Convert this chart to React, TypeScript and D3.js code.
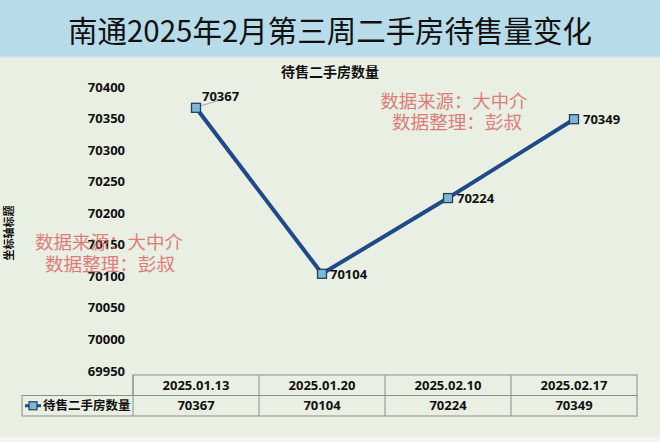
import React from "react";
import * as d3 from "d3";

const categories = ["2025.01.13", "2025.01.20", "2025.02.10", "2025.02.17"];
const values = [70367, 70104, 70224, 70349];
const yTicks = [69950, 70000, 70050, 70100, 70150, 70200, 70250, 70300, 70350, 70400];
const seriesName = "待售二手房数量";
const titleText = "南通2025年2月第三周二手房待售量变化";
const axisTitle = "坐标轴标题";
const wm1 = "数据来源：大中介";
const wm2 = "数据整理：彭叔";

const W = 660;
const H = 442;
const numFont = "'Open Sans', 'DejaVu Sans', sans-serif";
const cjkFont = "'Noto Sans CJK SC', sans-serif";

export default function App() {
  const x = d3.scaleBand<string>().domain(categories).range([133, 637]).padding(0);
  const y = d3.scaleLinear().domain([69950, 70400]).range([371, 87]);
  const cx = (c: string) => (x(c) as number) + x.bandwidth() / 2;
  const line = d3
    .line<number>()
    .x((_, i) => cx(categories[i]))
    .y((d) => y(d));

  const tableTop = 375;
  const rowH = 20.5;
  const legendLeft = 22;
  const tableLeft = x.range()[0];
  const tableRight = x.range()[1];
  const border = "#8a8e88";
  const lineColor = "#1f4a89";
  const mFill = "#7db7d6";
  const mStroke = "#23415f";
  const wmColor = "#dc6a68";

  const labelOffsets = [
    { dx: 6, dy: -11, anchor: "start" },
    { dx: 8, dy: 1, anchor: "start" },
    { dx: 9, dy: 0, anchor: "start" },
    { dx: 9, dy: 0, anchor: "start" },
  ];

  return (
    <svg
      width={W}
      height={H}
      style={{ position: "absolute", left: 0, top: 0 }}
      xmlns="http://www.w3.org/2000/svg"
    >
      <rect x={0} y={0} width={W} height={H} fill="#f3f5ef" />
      <rect x={0} y={57} width={W} height={380} fill="#e9efe2" />
      <rect x={0} y={0} width={W} height={57} fill="#b8dbe9" />
      <line x1={0} x2={W} y1={57} y2={57} stroke="#d8e6e6" strokeWidth={1} />
      <text
        x={330}
        y={42}
        textAnchor="middle"
        fontFamily={cjkFont}
        fontSize={30}
        fill="#111"
        textLength={524}
        lengthAdjust="spacingAndGlyphs"
      >
        {titleText}
      </text>

      <text
        x={330}
        y={77}
        textAnchor="middle"
        fontFamily={cjkFont}
        fontWeight={700}
        fontSize={14}
        fill="#111"
      >
        {seriesName}
      </text>

      {yTicks.map((t) => (
        <text
          key={t}
          x={125}
          y={y(t)}
          dy="0.35em"
          textAnchor="end"
          fontFamily={numFont}
          fontWeight={700}
          fontSize={13}
          fill="#111"
        >
          {t}
        </text>
      ))}

      <text
        transform={`translate(13,233) rotate(-90)`}
        textAnchor="middle"
        fontFamily={cjkFont}
        fontWeight={700}
        fontSize={11}
        fill="#111"
      >
        {axisTitle}
      </text>

      {/* watermarks */}
      <g fontFamily={cjkFont} fontSize={18} fill={wmColor} opacity={0.85}>
        <text x={109} y={243} dy="0.35em" textAnchor="middle" textLength={148} lengthAdjust="spacingAndGlyphs">
          {wm1}
        </text>
        <text x={110} y={265} dy="0.35em" textAnchor="middle" textLength={130} lengthAdjust="spacingAndGlyphs">
          {wm2}
        </text>
        <text x={454} y={102} dy="0.35em" textAnchor="middle" textLength={147} lengthAdjust="spacingAndGlyphs">
          {wm1}
        </text>
        <text x={457} y={123} dy="0.35em" textAnchor="middle" textLength={130} lengthAdjust="spacingAndGlyphs">
          {wm2}
        </text>
      </g>

      {/* leader line for first label */}
      <line
        x1={cx(categories[0]) + 5}
        y1={y(values[0]) - 2}
        x2={cx(categories[0]) + 25}
        y2={y(values[0]) - 8}
        stroke="#a0a4a0"
        strokeWidth={1}
      />

      <path d={line(values) || ""} fill="none" stroke={lineColor} strokeWidth={4} strokeLinejoin="round" />
      {values.map((v, i) => (
        <rect
          key={i}
          x={cx(categories[i]) - 4.5}
          y={y(v) - 4.5}
          width={9}
          height={9}
          fill={mFill}
          stroke={mStroke}
          strokeWidth={1.3}
        />
      ))}
      {values.map((v, i) => (
        <text
          key={"l" + i}
          x={cx(categories[i]) + labelOffsets[i].dx}
          y={y(v) + labelOffsets[i].dy}
          dy="0.35em"
          textAnchor={labelOffsets[i].anchor as any}
          fontFamily={numFont}
          fontWeight={700}
          fontSize={13}
          fill="#111"
        >
          {v}
        </text>
      ))}

      {/* data table */}
      <g>
        <rect
          x={tableLeft}
          y={tableTop}
          width={tableRight - tableLeft}
          height={rowH}
          fill="none"
          stroke={border}
          strokeWidth={1}
        />
        <rect
          x={legendLeft}
          y={tableTop + rowH}
          width={tableRight - legendLeft}
          height={rowH}
          fill="none"
          stroke={border}
          strokeWidth={1}
        />
        {categories.map((c, i) => (
          <g key={c}>
            {i > 0 && (
              <line
                x1={x(c) as number}
                x2={x(c) as number}
                y1={tableTop}
                y2={tableTop + 2 * rowH}
                stroke={border}
                strokeWidth={1}
              />
            )}
            <text
              x={cx(c)}
              y={tableTop + rowH / 2}
              dy="0.35em"
              textAnchor="middle"
              fontFamily={numFont}
              fontWeight={700}
              fontSize={13}
              fill="#111"
            >
              {c}
            </text>
            <text
              x={cx(c)}
              y={tableTop + rowH * 1.5}
              dy="0.35em"
              textAnchor="middle"
              fontFamily={numFont}
              fontWeight={700}
              fontSize={13}
              fill="#111"
            >
              {values[i]}
            </text>
          </g>
        ))}
        <line x1={tableLeft} x2={tableLeft} y1={tableTop} y2={tableTop + 2 * rowH} stroke={border} strokeWidth={1} />
        <line
          x1={legendLeft + 3}
          x2={legendLeft + 19}
          y1={tableTop + rowH * 1.5}
          y2={tableTop + rowH * 1.5}
          stroke={lineColor}
          strokeWidth={3}
        />
        <rect
          x={legendLeft + 7}
          y={tableTop + rowH * 1.5 - 4}
          width={8}
          height={8}
          fill={mFill}
          stroke={mStroke}
          strokeWidth={1.2}
        />
        <text
          x={legendLeft + 21}
          y={tableTop + rowH * 1.5}
          dy="0.35em"
          fontFamily={cjkFont}
          fontWeight={700}
          fontSize={12.5}
          fill="#111"
        >
          {seriesName}
        </text>
      </g>
    </svg>
  );
}
